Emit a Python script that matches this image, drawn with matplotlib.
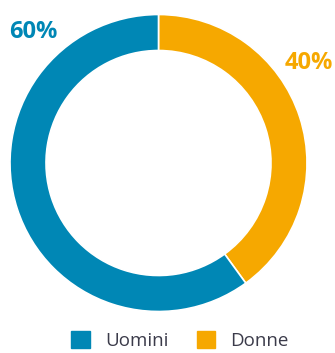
import matplotlib.pyplot as plt
from matplotlib.patches import Patch

# dati
categories = ['Donne', 'Uomini']
values = [40, 60]
colors = ['#f6a800', '#0087b5']
legend_order = ['Uomini', 'Donne']

plt.rcParams['font.family'] = ['Open Sans', 'DejaVu Sans']

fig = plt.figure(figsize=(3.35, 3.53), dpi=100)
ax = fig.add_axes([0, 0, 1, 1])

# coordinate in pixel (origine in basso a sinistra)
cx, cy, r = 158.5, 353 - 163, 148.5
wedges, _ = ax.pie(values, colors=colors, startangle=90, counterclock=False,
                   center=(cx, cy), radius=r,
                   wedgeprops=dict(width=36, edgecolor='white', linewidth=1.2))

ax.set_xlim(0, 335)
ax.set_ylim(0, 353)
ax.set_aspect('equal')
ax.axis('off')

# etichette percentuali
ax.text(33.5, 353 - 32, f'{values[1]}%', color=colors[1], fontsize=17,
        fontweight='bold', ha='center', va='center')
ax.text(309, 353 - 63, f'{values[0]}%', color=colors[0], fontsize=17,
        fontweight='bold', ha='center', va='center')

handles = [Patch(color=colors[categories.index(c)]) for c in legend_order]
leg = ax.legend(handles, legend_order, loc='upper center', ncol=2, frameon=False,
                bbox_to_anchor=(180 / 335, 31 / 353),
                fontsize=13.5, handlelength=1.0, handleheight=1.0,
                handletextpad=0.8, columnspacing=1.5, borderpad=0)
for t in leg.get_texts():
    t.set_color('#3b3b4a')

fig.savefig('out.png', dpi=100)
